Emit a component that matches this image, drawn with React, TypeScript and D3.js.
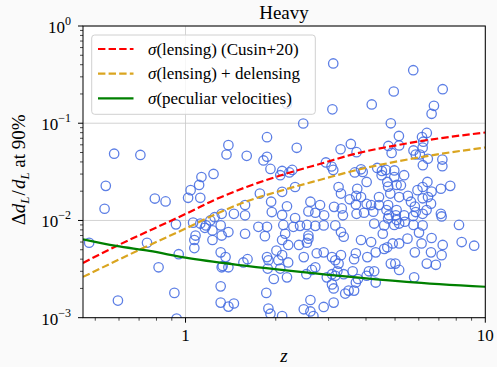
import * as d3 from 'd3'

// scatter: [z, Δd_L/d_L]
const events: [number, number][] = [
  [0.578, 0.0486], [0.707, 0.0472], [0.542, 0.0227], [0.537, 0.0132], [0.79, 0.0168], [0.858, 0.0157],
  [0.929, 0.00912], [1.02, 0.0171], [1.04, 0.0205], [1.12, 0.0171], [1.11, 0.0232], [1.13, 0.028],
  [1.24, 0.0301], [1.06, 0.0095], [1.12, 0.0093], [1.17, 0.0089], [1.21, 0.01], [1.25, 0.0108],
  [1.16, 0.0084], [1.23, 0.0079], [1.08, 0.007], [1.07, 0.0063], [1.07, 0.0052], [1.23, 0.0063],
  [0.477, 0.0059], [0.744, 0.0059], [0.949, 0.0045], [0.813, 0.0033], [0.918, 0.0018], [0.595, 0.0015],
  [0.934, 0.00098],
  // upper part
  [1.39, 0.0595], [1.37, 0.0477], [1.6, 0.0462], [1.87, 0.0719], [1.82, 0.0414], [1.87, 0.0452],
  [1.92, 0.0339], [2.1, 0.0323], [2.27, 0.0331], [2.35, 0.0559], [2.47, 0.0994], [2.18, 0.158],
  [3.11, 0.412], [3.09, 0.139], [2.94, 0.0395], [3.07, 0.0359], [3.11, 0.0331], [3.29, 0.054],
  [3.56, 0.0612], [3.72, 0.0504], [4.18, 0.156], [4.84, 0.0999], [4.95, 0.212], [5.75, 0.351],
  [7.21, 0.224], [6.74, 0.151], [6.62, 0.125], [5.15, 0.074], [6.38, 0.0795], [6.15, 0.0722],
  [6.21, 0.0646], [4.75, 0.0584], [5.16, 0.0591], [4.87, 0.0495], [5.76, 0.0525], [5.86, 0.0477],
  [6.05, 0.0477], [6.18, 0.0561], [6.43, 0.0431], [7.19, 0.0423], [7.19, 0.0361], [6.19, 0.037],
  [4.66, 0.0331], [4.97, 0.0327], [3.85, 0.0336], [4.36, 0.0347], [4.52, 0.0323],
  // middle band
  [2.07, 0.0292], [2.22, 0.0312], [2.32, 0.0221], [2.1, 0.0197], [1.77, 0.0189], [1.58, 0.0144],
  [1.93, 0.0156], [1.45, 0.0117], [1.58, 0.0113], [1.32, 0.0117], [1.94, 0.0122], [2.1, 0.0114],
  [2.18, 0.014], [2.32, 0.0106], [2.61, 0.0156], [2.81, 0.0144], [2.57, 0.0124], [2.71, 0.012],
  [2.9, 0.0113], [3.13, 0.0138], [3.32, 0.0133], [3.35, 0.0113], [3.24, 0.0221], [3.3, 0.0189],
  [3.16, 0.0089], [3.37, 0.0068], [3.3, 0.0076], [1.75, 0.0086], [1.87, 0.0086], [1.84, 0.0069],
  [1.58, 0.0073], [1.32, 0.007], [1.31, 0.0089], [1.39, 0.0076], [2.12, 0.009], [2.29, 0.0086],
  [2.41, 0.0088], [2.54, 0.009], [2.71, 0.0088], [2.89, 0.0089], [2.57, 0.007], [2.57, 0.0065],
  [2.54, 0.0059], [2.39, 0.0056], [2.2, 0.0056], [2.1, 0.0063], [2.15, 0.0073], [2.01, 0.0049],
  [2.1, 0.0044], [1.87, 0.0042], [1.89, 0.0039], [1.61, 0.004], [1.56, 0.0037], [1.36, 0.0042],
  [1.31, 0.0047], [1.39, 0.0033], [1.32, 0.0033], [1.33, 0.0034], [1.88, 0.0032], [2.04, 0.0039],
  [2.07, 0.0032], [2.2, 0.0037], [2.48, 0.0042], [2.53, 0.0028], [2.64, 0.0031], [2.71, 0.0033],
  [2.74, 0.0046], [2.89, 0.0047], [3.08, 0.0042], [3.16, 0.0039], [3.3, 0.0044], [3.24, 0.0036],
  [3.08, 0.0028], [3.16, 0.0027], [3.21, 0.003], [3.37, 0.0028], [2.96, 0.0026], [1.97, 0.0025],
  [2.18, 0.0026], [1.86, 0.0018], [1.31, 0.0021], [1.45, 0.0014], [1.39, 0.0013], [1.31, 0.00143],
  [1.89, 0.00124], [1.92, 0.0011], [2.1, 0.00104], [2.48, 0.00122], [2.61, 0.00152], [2.61, 0.00116],
  [2.89, 0.00129], [3.12, 0.00143], [3.41, 0.00177], [3.12, 0.002], [3.08, 0.0022], [2.67, 0.00104],
  // right part
  [3.9, 0.0316], [3.67, 0.0312], [4.51, 0.0292], [4.97, 0.028], [5.36, 0.0292], [4.02, 0.0249],
  [3.74, 0.0212], [3.85, 0.0174], [3.7, 0.0146], [3.94, 0.012], [4.16, 0.0144], [4.42, 0.0174],
  [4.42, 0.0144], [4.71, 0.0249], [4.82, 0.0189], [4.74, 0.0144], [4.77, 0.0113], [5.23, 0.023],
  [5.16, 0.0174], [5.65, 0.0156], [5.94, 0.0205], [6.18, 0.0221], [6.41, 0.0249], [6.44, 0.0174],
  [6.59, 0.0149], [7.11, 0.0212], [7.64, 0.0227], [7.11, 0.0117], [6.18, 0.0117], [5.86, 0.0122],
  [5.36, 0.0113], [5.03, 0.0113], [4.26, 0.0093], [4.6, 0.0089], [4.97, 0.009], [5.16, 0.0093],
  [5.76, 0.009], [6.18, 0.0089], [6.01, 0.0075], [5.5, 0.0065], [5.16, 0.0058], [4.91, 0.0058],
  [4.55, 0.0073], [3.85, 0.0063], [4.16, 0.006], [4.71, 0.0053], [4.6, 0.0051], [4.31, 0.0047],
  [6.13, 0.0058], [6.62, 0.0066], [6.59, 0.0047], [7.21, 0.0056], [7.15, 0.0044], [8.17, 0.009],
  [8.34, 0.006], [9.18, 0.0055], [6.38, 0.0036], [6.84, 0.0035], [4.84, 0.0036], [5.01, 0.0036],
  [5.16, 0.0031], [5.79, 0.0026], [3.7, 0.0046], [3.65, 0.004], [4.04, 0.0042], [4.09, 0.003],
  [4.26, 0.003], [4.31, 0.0023], [3.7, 0.0023], [3.65, 0.0019], [3.5, 0.0019], [3.76, 0.0025],
  [3.61, 0.003], [4.02, 0.0027], [5.82, 0.0047],
  [5.06, 0.0232], [4.74, 0.0223], [3.71, 0.0179], [3.53, 0.0165], [4.02, 0.0148], [5.52, 0.0179],
  [5.82, 0.0139], [6.18, 0.0169], [6.62, 0.0198], [6.37, 0.0128], [5.75, 0.0111], [7.15, 0.011],
  [5.39, 0.0097], [5.06, 0.0101], [4.74, 0.0105], [4.23, 0.0123], [3.72, 0.0117], [4.68, 0.0128],
  [5.06, 0.0128],
]

const lensZ = [0.455, 0.589, 0.76, 1.0, 1.262, 1.597, 2.29, 2.878, 3.56, 5.46, 10]
const lensSigma = [0.00366, 0.00547, 0.00789, 0.01165, 0.0165, 0.0221, 0.0319, 0.039, 0.0472, 0.0619, 0.0803]

const delensZ = [0.455, 0.76, 1.0, 1.262, 1.597, 2.124, 2.878, 3.56, 5.936, 10]
const delensSigma = [0.00263, 0.0056, 0.00826, 0.01165, 0.0157, 0.0206, 0.0267, 0.0319, 0.0442, 0.0563]

const pecZ = [0.455, 0.587, 0.758, 1.0, 1.597, 3.273, 5.46, 10]
const pecSigma = [0.0064, 0.00547, 0.00486, 0.00414, 0.00341, 0.00269, 0.00234, 0.00208]

const xMajor = [1, 10]
const xMinor = [0.5, 0.6, 0.7, 0.8, 0.9, 2, 3, 4, 5, 6, 7, 8, 9]
const yMajor = [0.001, 0.01, 0.1, 1]
const yExp = ['−3', '−2', '−1', '0']
const yMinor = [2, 3, 4, 5, 6, 7, 8, 9].flatMap(m => [m * 0.001, m * 0.01, m * 0.1])

const legendItems = [
  { label: '(lensing) (Cusin+20)', color: '#ff0000', dash: '7.4,3.2' },
  { label: '(lensing) + delensing', color: '#daa520', dash: '7.4,3.2' },
  { label: '(peculiar velocities)', color: '#008000', dash: '' },
]

const W = 497
const H = 367
const L = 83, R = 485.3, T = 26, B = 317.7
const FONT = "Liberation Serif, Times New Roman, Tinos, DejaVu Serif, Noto Serif, serif"

export default function App() {
  const x = d3.scaleLog().domain([0.455, 10]).range([L, R])
  const y = d3.scaleLog().domain([0.001, 1]).range([B, T])

  const mk = (zs: number[], ss: number[]) =>
    d3.line<number>().x(i => x(zs[i])).y(i => y(ss[i])).curve(d3.curveMonotoneX)(zs.map((_, i) => i)) || ''

  return (
    <svg width={W} height={H} style={{ position: 'absolute', left: 0, top: 0, background: '#fafafa' }}>
      <defs>
        <clipPath id="plot"><rect x={L} y={T} width={R - L} height={B - T} /></clipPath>
      </defs>
      <rect x={L} y={T} width={R - L} height={B - T} fill="#fff" />

      {/* grid */}
      {xMajor.map(v => (
        <line key={'gx' + v} x1={x(v)} x2={x(v)} y1={T} y2={B} stroke="#c8c8c8" strokeWidth={0.8} />
      ))}
      {yMajor.map(v => (
        <line key={'gy' + v} x1={L} x2={R} y1={y(v)} y2={y(v)} stroke="#c8c8c8" strokeWidth={0.8} />
      ))}

      <g clipPath="url(#plot)">
        {events.map(([z, s], i) => (
          <circle key={i} cx={x(z)} cy={y(s)} r={4.7} fill="none" stroke="#4169e1"
            strokeOpacity={0.85} strokeWidth={1.3} />
        ))}
        <path d={mk(lensZ, lensSigma)} fill="none" stroke="#ff0000" strokeWidth={2.2} strokeDasharray="7.4,3.2" />
        <path d={mk(delensZ, delensSigma)} fill="none" stroke="#daa520" strokeWidth={2.2} strokeDasharray="7.4,3.2" />
        <path d={mk(pecZ, pecSigma)} fill="none" stroke="#008000" strokeWidth={2.2} />
      </g>

      {/* frame */}
      <rect x={L} y={T} width={R - L} height={B - T} fill="none" stroke="#000" strokeWidth={1} />

      <g fontFamily={FONT}>
        {/* x ticks */}
        {xMajor.map(v => (
          <g key={'xt' + v}>
            <line x1={x(v)} x2={x(v)} y1={B} y2={B + 5} stroke="#000" />
            <text x={x(v)} y={B + 23} textAnchor="middle" fontSize={17}>{v}</text>
          </g>
        ))}
        {xMinor.map(v => (
          <line key={'xm' + v} x1={x(v)} x2={x(v)} y1={B} y2={B + 3} stroke="#000" strokeWidth={0.7} />
        ))}

        {/* y ticks */}
        {yMajor.map((v, i) => (
          <g key={'yt' + v}>
            <line x1={L - 5} x2={L} y1={y(v)} y2={y(v)} stroke="#000" />
            <text x={L - 12} y={y(v) + 7} textAnchor="end" fontSize={17}>
              10<tspan dy={-8} fontSize={12}>{yExp[i]}</tspan>
            </text>
          </g>
        ))}
        {yMinor.map(v => (
          <line key={'ym' + v} x1={L - 3} x2={L} y1={y(v)} y2={y(v)} stroke="#000" strokeWidth={0.7} />
        ))}

        {/* labels */}
        <text x={284} y={T - 7} textAnchor="middle" fontSize={19}>Heavy</text>
        <text x={284} y={B + 44} textAnchor="middle" fontSize={19} fontStyle="italic">z</text>
        <text transform={`translate(25,${(T + B) / 2 - 2}) rotate(-90)`} textAnchor="middle" fontSize={19}>
          Δ<tspan fontStyle="italic">d</tspan><tspan fontSize={13} dy={4} fontStyle="italic">L</tspan>
          <tspan dy={-4} dx={1}>/</tspan><tspan fontStyle="italic" dx={1}>d</tspan>
          <tspan fontSize={13} dy={4} fontStyle="italic">L</tspan><tspan dy={-4}> at 90%</tspan>
        </text>

        {/* legend */}
        <rect x={91.7} y={35} width={223.6} height={79.3} rx={3} fill="#fff" fillOpacity={0.8}
          stroke="#d0d0d0" strokeWidth={1} />
        {legendItems.map((it, i) => {
          const ly = 49 + i * 24.7
          return (
            <g key={it.label}>
              <line x1={98} x2={133.5} y1={ly} y2={ly} stroke={it.color} strokeWidth={2.2}
                strokeDasharray={it.dash || undefined} />
              <text x={148} y={ly + 5.5} fontSize={17}>
                <tspan fontStyle="italic">σ</tspan>{it.label}
              </text>
            </g>
          )
        })}
      </g>
    </svg>
  )
}
